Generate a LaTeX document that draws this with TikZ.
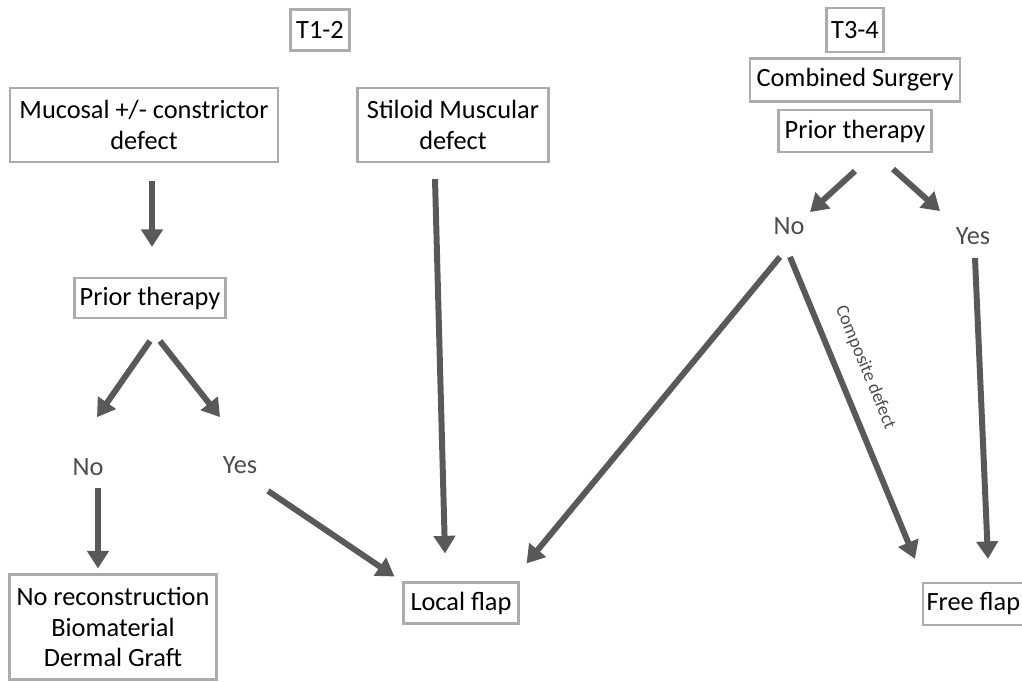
\documentclass[tikz,border=0pt]{standalone}
\usepackage{fontspec}
\setmainfont{Carlito}
\usetikzlibrary{arrows.meta,calc}

\begin{document}
\begin{tikzpicture}[x=0.02cm,y=-0.02cm,
  >={Triangle[width=12pt,length=10pt]},
  box node/.style={draw=gray!65,line width=1.2pt,inner sep=2pt,align=center,
    font=\fontsize{15}{17.5}\selectfont},
  answer/.style={inner sep=0pt,text=black!70,font=\fontsize{15}{17.5}\selectfont},
  arrow/.style={->,line width=3.4pt,draw=black!65,color=black!65}]

  \useasboundingbox (0,0) rectangle (1022,681);

  % T1-2 branch
  \node[box node,minimum width=1.18cm,minimum height=0.82cm] (t12) at (320,30) {T1-2};
  \node[box node,minimum width=5.36cm,minimum height=1.48cm] (muc) at (144,125) {Mucosal +/- constrictor\\defect};
  \node[box node,minimum width=3.82cm,minimum height=1.48cm] (stil) at (453,125) {Stiloid Muscular\\defect};
  \node[box node,minimum width=3.02cm,minimum height=0.8cm] (priorL) at (150,298) {Prior therapy};
  \node[answer] (noL) at (88,467) {No};
  \node[answer] (yesL) at (240,465) {Yes};
  \node[box node,minimum width=4.14cm,minimum height=2.1cm] (recon) at (113,627) {No reconstruction\\Biomaterial\\Dermal Graft};
  \node[box node,minimum width=2.3cm,minimum height=0.82cm] (local) at (461,603) {Local flap};

  % T3-4 branch
  \node[box node,minimum width=1.14cm,minimum height=0.88cm] (t34) at (855,30) {T3-4};
  \node[box node,minimum width=4.2cm,minimum height=0.86cm] (comb) at (855,80) {Combined Surgery};
  \node[box node,minimum width=3.06cm,minimum height=0.84cm] (priorR) at (855,131) {Prior therapy};
  \node[answer] (noR) at (789,226) {No};
  \node[answer] (yesR) at (973,236) {Yes};
  \node[box node,anchor=west,minimum height=0.84cm] (free) at (922,604) {Free flap\hspace{0.5cm}};

  \draw[arrow] ($(muc.south)+(8,18)$) -- ($(priorL.north)+(2,-30)$);
  \draw[arrow] ($(priorL.south)+(0,22)$) -- ($(noL.north)+(9,-41)$);
  \draw[arrow] ($(priorL.south)+(10,22)$) -- ($(yesL.north)+(-20,-39)$);
  \draw[arrow] ($(noL.south)+(10,12)$) -- ($(recon.north)+(-15,-5)$);
  \draw[arrow] ($(yesL.south)+(28,17)$) -- ($(local.north west)+(-8,-5)$);
  \draw[arrow] ($(stil.south)+(-18,16)$) -- ($(local.north)+(-16,-28)$);

  \draw[arrow] ($(priorR.south)+(0,18)$) -- ($(noR.north)+(21,-5)$);
  \draw[arrow] ($(priorR.south)+(38,16)$) -- ($(yesR.north)+(-33,-16)$);
  \draw[arrow] ($(noR.south)+(-9,22)$) -- ($(local.north east)+(7,-18)$);
  \draw[arrow] ($(noR.south)+(1,22)$) -- node[pos=0.4,above=6pt,sloped,
    text=black!70,font=\fontsize{10.5}{12}\selectfont] {Composite defect}
    ($(free.north west)+(-7,-23)$);
  \draw[arrow] ($(yesR.south)+(2,13)$) -- ($(free.north west)+(66,-23)$);
\end{tikzpicture}
\end{document}
